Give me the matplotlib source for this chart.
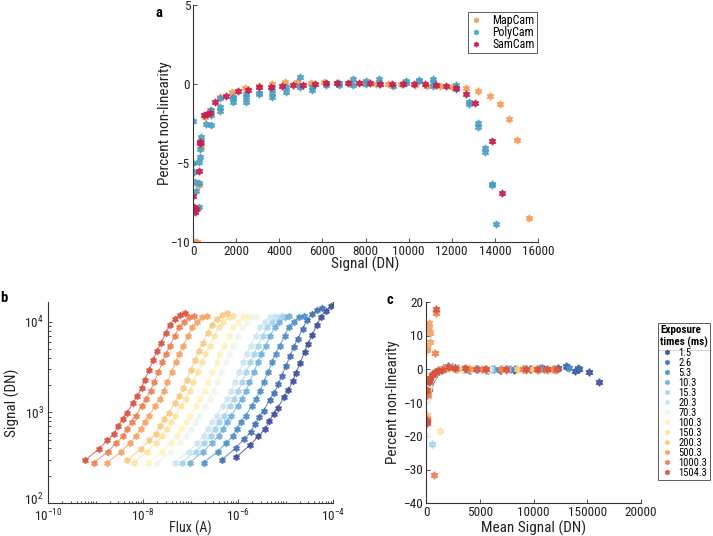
import numpy as np
import matplotlib
matplotlib.use("Agg")
import matplotlib.pyplot as plt
from matplotlib import font_manager
from matplotlib.lines import Line2D
from matplotlib.transforms import ScaledTranslation
from matplotlib.ticker import LogLocator, LogFormatterMathtext, NullFormatter, FixedLocator

# pick a condensed sans face if one exists
FAM, STRETCH = 'Liberation Sans', 'normal'
cands = []
for f in font_manager.fontManager.ttflist:
    st = str(f.stretch)
    if ('Narrow' in f.name or 'Condensed' in f.name or st in ('condensed', 'semi-condensed', '500', '400', '300')) \
            and f.style == 'normal' and f.name in ('Liberation Sans Narrow', 'DejaVu Sans', 'Roboto Condensed',
                                                   'Open Sans Condensed', 'Noto Sans', 'Roboto', 'Open Sans',
                                                   'DejaVu Sans Condensed', 'Noto Sans Condensed'):
        cands.append((f.name, st))
order = ['Liberation Sans Narrow', 'Roboto Condensed', 'Noto Sans Condensed', 'DejaVu Sans Condensed',
         'Open Sans Condensed', 'Noto Sans', 'Open Sans', 'Roboto', 'DejaVu Sans']
for nm in order:
    hit = [c for c in cands if c[0] == nm and (('Narrow' in nm or 'Condensed' in nm) or c[1] in ('condensed', 'semi-condensed', '300', '400', '500'))]
    if hit:
        FAM, STRETCH = hit[0]
        break

plt.rcParams['font.family'] = [FAM, 'DejaVu Sans']
plt.rcParams['font.stretch'] = STRETCH
plt.rcParams['mathtext.fontset'] = 'custom'
plt.rcParams['mathtext.rm'] = FAM
plt.rcParams['mathtext.it'] = FAM
plt.rcParams['mathtext.bf'] = FAM

# ---------------- Panel a data ----------------
map_x = [110, 190, 260, 370, 570, 800, 1230, 1800, 2420, 3040, 3660, 4280, 4820, 5470, 6060, 6660,
         7290, 7900, 8510, 9060, 9630, 10290, 10860, 11450, 11990, 12650, 13230, 13770, 14230,
         14660, 15030, 15590]
map_y = [-10.0, -10.0, -6.4, -3.97, -2.07, -1.65, -0.8, -0.49, -0.27, -0.1, 0.0, 0.1, 0.1, 0.08,
         0.12, 0.06, 0.06, 0.06, 0.02, -0.02, -0.02, -0.08, -0.13, -0.13, -0.21, -0.27, -0.42,
         -0.74, -1.29, -2.22, -3.55, -8.46]
poly_x = [0, 0, 30, 110, 160, 260, 310, 260, 340, 370, 350, 260, 190, 620, 830, 850, 850, 1230,
          1230, 1230, 1850, 1850, 1850, 2470, 2470, 2470, 3070, 3070, 3680, 3680, 3680, 4330,
          4330, 4940, 4940, 4940, 5540, 5540, 6160, 6780, 6780, 7410, 7410, 8020, 8020, 8640,
          8640, 9260, 9880, 9880, 10500, 10500, 11110, 11110, 11110, 12220, 12220, 12810, 12810,
          13230, 13230, 13540, 13540, 13850, 13850, 14070]
poly_y = [-2.33, -4.99, -5.56, -6.2, -6.77, -6.28, -4.6, -4.95, -4.14, -3.38, -3.7, -7.78, -7.88,
          -2.5, -2.6, -1.97, -1.65, -1.44, -1.71, -0.91, -1.12, -0.87, -0.8, -1.12, -0.8, -0.63,
          -0.66, -0.59, -0.8, -0.59, -0.27, -0.49, -0.21, 0.47, -0.21, -0.1, -0.38, -0.21, -0.06,
          -0.06, 0.04, 0.32, -0.08, 0.19, 0.0, 0.32, 0.0, -0.1, 0.21, 0.08, 0.19, 0.25, 0.3,
          -0.13, 0.04, -0.34, -0.08, -1.27, -1.12, -2.45, -2.7, -4.08, -4.29, -6.3, -6.4, -8.84]
sam_x = [0, 30, 115, 150, 260, 340, 330, 500, 650, 800, 1030, 1540, 2070, 2570, 3070, 3600, 4120,
         4630, 5120, 5650, 6160, 6660, 7190, 7700, 8210, 8670, 9230, 9750, 10250, 10780, 11270,
         11730, 12220, 12650, 13070, 13850, 14350]
sam_y = [-7.1, -7.8, -8.1, -7.9, -5.5, -3.66, -3.75, -1.97, -1.9, -1.85, -1.12, -0.74, -0.42,
         -0.38, -0.2, -0.2, -0.1, -0.08, -0.04, -0.02, 0.04, 0.04, 0.04, 0.04, 0.04, 0.0, 0.0,
         0.0, -0.02, -0.02, -0.06, -0.13, -0.27, -0.66, -1.18, -3.6, -6.93]

# ---------------- Panel b / c shared ----------------
exposures = ['1.5', '2.6', '5.3', '10.3', '15.3', '20.3', '70.3', '100.3', '150.3', '200.3',
             '500.3', '1000.3', '1504.3']
colors = ['#3c4c9c', '#3f70b3', '#4a8fc8', '#6fb0dd', '#a6d4ec', '#cbe6f2', '#eef6ee',
          '#fdf3c0', '#fde3a0', '#f9c880', '#f4a264', '#ec7e50', '#d85040']

# Panel b: log10 flux (A) and signal (DN) per exposure
logflux_b = {
    '1504.3': [-9.22, -8.93, -8.75, -8.61, -8.52, -8.43, -8.34, -8.21, -8.12, -8.03, -7.96, -7.87, -7.78, -7.71, -7.62, -7.52, -7.43, -7.33, -7.22, -7.12],
    '1000.3': [-9.03, -8.74, -8.56, -8.42, -8.33, -8.24, -8.15, -8.02, -7.93, -7.84, -7.77, -7.68, -7.59, -7.52, -7.43, -7.33, -7.24, -7.14, -7.03, -6.93],
    '500.3': [-8.75, -8.46, -8.28, -8.14, -8.05, -7.96, -7.87, -7.74, -7.65, -7.56, -7.49, -7.40, -7.31, -7.24, -7.15, -7.05, -6.96, -6.86, -6.75, -6.65],
    '200.3': [-8.34, -8.05, -7.87, -7.73, -7.64, -7.55, -7.46, -7.33, -7.24, -7.15, -7.08, -6.99, -6.90, -6.83, -6.74, -6.64, -6.55, -6.45, -6.34, -6.24],
    '150.3': [-8.20, -7.91, -7.73, -7.59, -7.50, -7.41, -7.32, -7.19, -7.10, -7.01, -6.94, -6.85, -6.76, -6.69, -6.60, -6.50, -6.41, -6.31, -6.20, -6.10],
    '100.3': [-7.89, -7.60, -7.42, -7.28, -7.19, -7.10, -7.01, -6.88, -6.79, -6.70, -6.63, -6.54, -6.45, -6.38, -6.29, -6.19, -6.10, -6.00, -5.89, -5.79],
    '70.3': [-7.70, -7.41, -7.23, -7.09, -7.00, -6.91, -6.82, -6.69, -6.60, -6.51, -6.44, -6.35, -6.26, -6.19, -6.10, -6.00, -5.91, -5.81, -5.70, -5.60],
    '20.3': [-7.33, -7.04, -6.86, -6.72, -6.63, -6.54, -6.45, -6.32, -6.23, -6.14, -6.07, -5.98, -5.89, -5.82, -5.73, -5.63, -5.54, -5.44, -5.33, -5.23],
    '15.3': [-7.18, -6.89, -6.71, -6.57, -6.48, -6.39, -6.30, -6.17, -6.08, -5.99, -5.92, -5.83, -5.74, -5.67, -5.58, -5.48, -5.39, -5.29, -5.18, -5.08],
    '10.3': [-7.02, -6.73, -6.55, -6.41, -6.32, -6.23, -6.14, -6.01, -5.92, -5.83, -5.76, -5.67, -5.58, -5.51, -5.42, -5.32, -5.23, -5.13, -5.02, -4.92],
    '5.3': [-6.72, -6.43, -6.25, -6.11, -6.02, -5.93, -5.84, -5.71, -5.62, -5.53, -5.46, -5.37, -5.28, -5.21, -5.12, -5.02, -4.93, -4.83, -4.72, -4.62],
    '2.6': [-6.34, -6.05, -5.87, -5.73, -5.64, -5.55, -5.46, -5.33, -5.24, -5.15, -5.08, -4.99, -4.90, -4.83, -4.74, -4.64, -4.55, -4.45, -4.34, -4.24],
    '1.5': [-6.04, -5.75, -5.57, -5.43, -5.34, -5.25, -5.16, -5.03, -4.94, -4.85, -4.78, -4.69, -4.60, -4.53, -4.44, -4.34, -4.25, -4.15, -4.05, -3.95],
}
sig_b_a = [296, 395, 492, 583, 703, 847, 986, 1274, 1510, 1866, 2307, 2974, 3836, 4745, 5867, 7557, 9348, 10800, 12050, 12570]
sig_b_b = [280, 370, 460, 545, 655, 790, 920, 1190, 1400, 1740, 2150, 2770, 3570, 4420, 5460, 7030, 8700, 10050, 11200, 11700]
sig_b_c = [300, 405, 510, 610, 740, 900, 1050, 1380, 1640, 2040, 2530, 3280, 4250, 5260, 6520, 8400, 10400, 12100, 13500, 14300]
sig_b_d = [320, 435, 545, 655, 795, 965, 1130, 1480, 1770, 2200, 2740, 3560, 4620, 5740, 7120, 9190, 11400, 13300, 14950, 16200]
signal_b = {'1504.3': sig_b_a, '1000.3': sig_b_b, '500.3': sig_b_b, '200.3': sig_b_a,
            '150.3': sig_b_b, '100.3': sig_b_b, '70.3': sig_b_b, '20.3': sig_b_b,
            '15.3': sig_b_b, '10.3': sig_b_b, '5.3': sig_b_b, '2.6': sig_b_c, '1.5': sig_b_d}

# Panel c: mean signal (DN) and percent non-linearity per exposure
cx = {
    '1.5': [320, 600, 1000, 1600, 2400, 4100, 5600, 6900, 8200, 9800, 11000, 12300, 13100, 13900, 14200, 15200, 16070],
    '2.6': [250, 500, 900, 1500, 2000, 3000, 4000, 5800, 7000, 8300, 9700, 10800, 11800, 13050, 14100],
    '5.3': [200, 400, 700, 1200, 1900, 2700, 3600, 4800, 6300, 7800, 9300, 10600, 12000, 13300],
    '10.3': [150, 350, 650, 1100, 1800, 2600, 3500, 4700, 6100, 7600, 9100, 10500, 11900],
    '15.3': [120, 300, 560, 600, 1000, 1700, 2500, 3400, 4600, 6000, 7500, 9000, 10400, 11800],
    '20.3': [100, 250, 550, 950, 1600, 2400, 3300, 4500, 5900, 7400, 8900, 10300, 11700],
    '70.3': [90, 100, 230, 500, 900, 1500, 2300, 3200, 4400, 5800, 7300, 8800, 10200, 11600],
    '100.3': [90, 200, 450, 850, 1400, 2200, 3100, 4300, 5700, 7200, 8700, 10100, 11500],
    '150.3': [90, 180, 400, 800, 1300, 1300, 2100, 3000, 4200, 5600, 7100, 8600, 10000, 11400],
    '200.3': [90, 90, 160, 380, 750, 1250, 2000, 2900, 4100, 5500, 7000, 8500, 9900, 11300],
    '500.3': [90, 90, 280, 300, 340, 370, 140, 350, 700, 1200, 1900, 2800, 4000, 5400, 7400, 9300, 10400, 11300, 12100],
    '1000.3': [90, 130, 320, 650, 740, 840, 930, 1100, 1800, 2700, 3800, 5200, 7000, 9000, 10500, 11800],
    '1504.3': [90, 90, 120, 250, 400, 600, 800, 930, 1100, 1500, 2170, 2720, 3650, 4670, 5600, 7430, 9320, 10300, 11240, 12170],
}
cy = {
    '1.5': [-5.5, -2.6, -1.0, 0.2, 0.6, -0.2, -0.2, -0.3, -0.3, -0.1, 0.1, 0.2, 0.5, -0.5, 0.0, -0.9, -4.0],
    '2.6': [-6.0, -3.2, -1.3, -0.2, 0.8, 0.3, -0.2, -0.2, -0.2, -0.1, -0.1, 0.3, 0.1, 0.8, 0.4],
    '5.3': [-7.0, -3.8, -1.8, -0.5, 0.4, 0.3, 0.1, 0.0, -0.1, 0.0, 0.0, 0.2, 0.1, 0.3],
    '10.3': [-8.0, -4.2, -2.0, -0.6, 0.2, 0.3, 0.1, 0.0, 0.0, 0.0, 0.0, 0.1, 0.0],
    '15.3': [-8.5, -4.5, -22.4, -2.2, -0.7, 0.1, 0.3, 0.1, 0.0, 0.0, 0.0, 0.0, 0.1, 0.0],
    '20.3': [-9.0, -5.0, -2.4, -0.8, 0.0, 0.3, 0.1, 0.0, 0.0, 0.0, 0.0, 0.1, 0.0],
    '70.3': [-19.7, -9.5, -5.5, -2.6, -0.9, -0.1, 0.3, 0.1, 0.0, 0.0, 0.0, 0.0, 0.1, 0.0],
    '100.3': [-8.4, -6.0, -2.8, -1.0, -0.2, 0.3, 0.1, 0.0, 0.0, 0.0, 0.0, 0.1, 0.0],
    '150.3': [-2.0, -6.5, -3.0, -1.1, -18.5, -0.3, 0.3, 0.1, 0.0, 0.0, 0.0, 0.0, 0.1, 0.0],
    '200.3': [-13.7, -14.5, -7.0, -3.2, -1.2, -0.3, 0.3, 0.1, 0.0, 0.0, 0.0, 0.0, 0.1, 0.0],
    '500.3': [6.3, 5.6, 13.7, 12.2, 10.7, 8.1, -7.5, -3.4, -1.3, -0.3, 0.3, 0.1, 0.0, 0.0, -0.3, -0.2, -0.2, -0.2, -0.2],
    '1000.3': [-15.0, -7.8, -3.6, -1.4, -31.6, 4.8, 16.7, -0.4, 0.4, 0.3, 0.1, 0.0, 0.0, 0.0, 0.0, 0.0],
    '1504.3': [-15.5, -16.0, -6.3, -4.0, -2.8, -1.8, -1.0, 17.9, -0.5, -0.2, 0.6, 0.4, 0.3, 0.1, 0.0, 0.0, 0.0, 0.0, 0.0, 0.0],
}

W, H = 713, 536
fig = plt.figure(figsize=(W / 100, H / 100), dpi=100)

def fx(px):
    return px / W

def fy(py):
    return 1 - py / H

STAR = (6, 1, 0)
TICK_FS = 9.5
LAB_FS = 11

def style(ax):
    for s in ['top', 'right']:
        ax.spines[s].set_visible(False)
    for s in ['left', 'bottom']:
        ax.spines[s].set_linewidth(0.8)
        ax.spines[s].set_color('#333333')
    ax.tick_params(direction='in', length=3, width=0.6, labelsize=TICK_FS, colors='#333333',
                   labelcolor='#222222', pad=2)
    ax.tick_params(which='minor', direction='in', length=1.8, width=0.5)

# ---------------- Panel a ----------------
axa = fig.add_axes([fx(193), fy(242), fx(538 - 193), (242 - 5) / H])
axa.plot(map_x, map_y, ls='', marker=STAR, ms=5.2, color='#f59c58', alpha=0.9, label='MapCam')
axa.plot(poly_x, poly_y, ls='', marker=STAR, ms=5.2, color='#4a9ec0', alpha=0.85, label='PolyCam')
axa.plot(sam_x, sam_y, ls='', marker=STAR, ms=5.2, color='#c81e4e', alpha=0.9, label='SamCam')
axa.set_xlim(0, 16000)
axa.set_ylim(-10, 5)
axa.set_xticks(np.arange(0, 16001, 2000))
axa.set_yticks([-10, -5, 0, 5])
style(axa)
axa.set_xlabel('Signal (DN)', fontsize=LAB_FS, color='#222222')
axa.set_ylabel('Percent non-linearity', fontsize=LAB_FS, color='#222222')
axa.xaxis.set_label_coords(0.5, -0.063)
axa.yaxis.set_label_coords(-0.06, 0.5)
lega = axa.legend(loc='upper left', bbox_to_anchor=((468 - 193) / 345, (242 - 12) / 237),
                  fontsize=8.6, frameon=True, fancybox=False, edgecolor='#333333',
                  borderpad=0.15, labelspacing=-0.08, handlelength=1.0, handletextpad=0.9,
                  borderaxespad=0, markerscale=0.7)
lega.get_frame().set_linewidth(0.7)
fig.text(fx(155), fy(17), 'a', fontsize=10.5, fontweight='bold')

# ---------------- Panel b ----------------
axb = fig.add_axes([fx(48), fy(503), fx(333 - 48), (503 - 302) / H])
for e, c in zip(exposures, colors):
    f = [10.0 ** v for v in logflux_b[e]]
    axb.plot(f, signal_b[e], '-', lw=0.7, color=c, marker=STAR, ms=4.8, alpha=0.85)
axb.set_xscale('log')
axb.set_yscale('log')
axb.set_xlim(1e-10, 1e-4)
axb.set_ylim(100, 1.66e4)
axb.xaxis.set_major_locator(FixedLocator([1e-10, 1e-8, 1e-6, 1e-4]))
axb.xaxis.set_major_formatter(LogFormatterMathtext())
axb.xaxis.set_minor_locator(LogLocator(base=10, subs=np.arange(1, 10), numticks=30))
axb.xaxis.set_minor_formatter(NullFormatter())
axb.yaxis.set_major_locator(FixedLocator([1e2, 1e3, 1e4]))
axb.yaxis.set_major_formatter(LogFormatterMathtext())
axb.yaxis.set_minor_locator(LogLocator(base=10, subs=np.arange(2, 10), numticks=30))
axb.yaxis.set_minor_formatter(NullFormatter())
style(axb)
axb.tick_params(axis='x', pad=3.5)
axb.tick_params(axis='y', pad=3)
axb.set_xlabel('Flux (A)', fontsize=10, color='#222222')
axb.set_ylabel('Signal (DN)', fontsize=LAB_FS, color='#222222')
axb.xaxis.set_label_coords(0.5, -0.088)
axb.yaxis.set_label_coords(-0.1, 0.5)
fig.text(fx(0), fy(302), 'b', fontsize=10.5, fontweight='bold')

# ---------------- Panel c ----------------
axc = fig.add_axes([fx(426), fy(503), fx(641 - 426), (503 - 302) / H])
handles = []
for e, c in zip(exposures, colors):
    axc.plot(cx[e], cy[e], ls='', marker=STAR, ms=5.5, color=c, alpha=0.85)
    handles.append(Line2D([], [], ls='', marker=STAR, ms=3.5, color=c, alpha=0.85, label=e))
axc.set_xlim(0, 20000)
axc.set_ylim(-40, 20)
axc.set_xticks([0, 5000, 10000, 15000, 20000])
axc.set_xticklabels(['0', '5000', '10000', '150000', '20000'])
axc.set_yticks([20, 10, 0, -10, -20, -30, -40])
style(axc)
axc.set_xlabel('Mean Signal (DN)', fontsize=LAB_FS, color='#222222')
axc.set_ylabel('Percent non-linearity', fontsize=LAB_FS, color='#222222')
axc.xaxis.set_label_coords(0.5, -0.088)
axc.yaxis.set_label_coords(-0.12, 0.5)
fig.text(fx(386), fy(304), 'c', fontsize=10.5, fontweight='bold')

legc = fig.legend(handles=handles, loc='upper left', bbox_to_anchor=(fx(658), fy(323)),
                  fontsize=7.6, frameon=True, fancybox=False, edgecolor='#333333',
                  borderpad=0.2, labelspacing=0.0, handlelength=1.1, handletextpad=0.5,
                  borderaxespad=0, title='Exposure\ntimes (ms)',
                  title_fontproperties={'weight': 'bold', 'size': 8, 'family': FAM,
                                        'stretch': STRETCH})
legc.get_frame().set_linewidth(0.7)
legc._legend_box.align = 'center'

fig.canvas.draw()
# nudge the lowest y label of panel b up a little so it clears the first x label
for t in axb.yaxis.get_majorticklabels():
    if t.get_position()[1] <= 100.0 + 1e-9:
        t.set_transform(t.get_transform() + ScaledTranslation(0, 3 / 72, fig.dpi_scale_trans))
tb = legc.get_title().get_window_extent()
fb = legc.get_frame().get_window_extent()
inv = fig.transFigure.inverted()
(x0, y0) = inv.transform((fb.x0, tb.y0 - 1.5))
(x1, _) = inv.transform((fb.x1, tb.y0 - 1.5))
fig.add_artist(Line2D([x0, x1], [y0, y0], transform=fig.transFigure, lw=0.7, color='#333333'))

fig.savefig('out.png', dpi=100)
